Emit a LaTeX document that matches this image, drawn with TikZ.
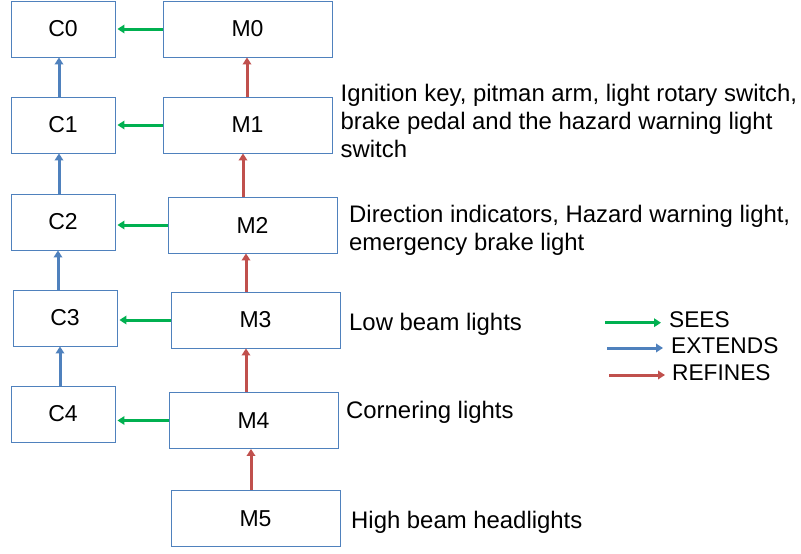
\documentclass[tikz,border=0pt]{standalone}
\usepackage{fontspec}
\setmainfont{Liberation Sans}
\usetikzlibrary{arrows.meta}
\definecolor{boxblue}{HTML}{4F81BD}
\definecolor{seesgreen}{HTML}{00B050}
\definecolor{extblue}{HTML}{4F81BD}
\definecolor{refred}{HTML}{C0504D}
\tikzset{
  box/.style={draw=boxblue, line width=0.9pt, fill=white, inner sep=0pt,
    minimum height=56pt, font=\fontsize{23}{27.7}\selectfont},
  cbox/.style={box, minimum width=104pt},
  mbox/.style={box, minimum width=169pt},
  conn/.style={line width=3pt, -{Triangle[length=7pt,width=8.5pt]}},
  sees/.style={conn, seesgreen, shorten >=2pt},
  ext/.style={conn, extblue},
  ref/.style={conn, refred},
  lbl/.style={anchor=base west, inner sep=0pt, align=left,
    font=\fontsize{23.9}{27.7}\selectfont},
  leg/.style={lbl, font=\fontsize{22.7}{27.7}\selectfont},
}
\begin{document}
\begin{tikzpicture}[x=1pt, y=-1pt]
\useasboundingbox (0,0) rectangle (801,554);
% boxes
\node[cbox] (C0) at (63,29) {C0};
\node[mbox] (M0) at (247.5,29) {M0};
\node[cbox] (C1) at (63,125) {C1};
\node[mbox] (M1) at (247.5,125) {M1};
\node[cbox] (C2) at (63,222) {C2};
\node[mbox] (M2) at (252.5,225) {M2};
\node[cbox] (C3) at (65,318) {C3};
\node[mbox] (M3) at (255.5,320) {M3};
\node[cbox] (C4) at (63,414) {C4};
\node[mbox] (M4) at (253.5,420.5) {M4};
\node[mbox] (M5) at (255.5,518.5) {M5};
% sees arrows
\foreach \i in {0,...,4}{
  \draw[sees] (M\i.west) -- (M\i.west -| C\i.east);
}
% extends arrows
\coordinate (e1) at (C1.north -| 59,0);
\coordinate (e2) at (C2.north -| 59,0);
\coordinate (e3) at (C3.north -| 58,0);
\coordinate (e4) at (C4.north -| 60,0);
\draw[ext] (e1) -- (e1 |- C0.south);
\draw[ext] (e2) -- (e2 |- C1.south);
\draw[ext] (e3) -- (e3 |- C2.south);
\draw[ext] (e4) -- (e4 |- C3.south);
% refines arrows
\coordinate (r1) at (M1.north -| 247,0);
\coordinate (r2) at (M2.north -| 243,0);
\coordinate (r3) at (M3.north -| 246,0);
\coordinate (r4) at (M4.north -| 246,0);
\coordinate (r5) at (M5.north -| 251,0);
\draw[ref] (r1) -- (r1 |- M0.south);
\draw[ref] (r2) -- (r2 |- M1.south);
\draw[ref] (r3) -- (r3 |- M2.south);
\draw[ref] (r4) -- (r4 |- M3.south);
\draw[ref] (r5) -- (r5 |- M4.south);
% descriptions (base anchor = last line)
\node[lbl] (t1) at (340.5,157) {Ignition key, pitman arm, light rotary switch,\\brake pedal and the hazard warning light\\switch};
\node[lbl] (t2) at (349,250) {Direction indicators, Hazard warning light,\\emergency brake light};
\node[lbl] (t3) at (349,330) {Low beam lights};
\node[lbl] (t4) at (346,418) {Cornering lights};
\node[lbl] (t5) at (351,528.5) {High beam headlights};
% legend
\coordinate (la) at (605,322.7);
\coordinate (lb) at (607,348);
\coordinate (lc) at (609,375);
\draw[conn, seesgreen] (la) -- ++(56,0);
\draw[ext] (lb) -- ++(56,0);
\draw[ref] (lc) -- ++(56,0);
\node[leg] (ls) at (669,327.5) {SEES};
\node[leg] (le) at (671,353.5) {EXTENDS};
\node[leg] (lr) at (672,380.5) {REFINES};
\end{tikzpicture}
\end{document}
